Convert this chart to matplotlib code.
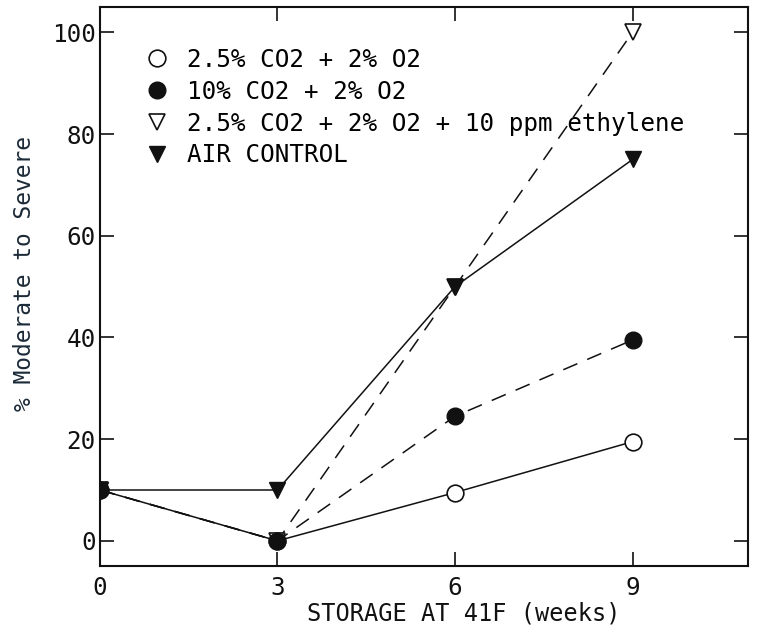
import matplotlib
matplotlib.use("Agg")
import matplotlib.pyplot as plt

weeks = [0, 3, 6, 9]
co2_25 = [10, 0, 9.5, 19.5]
co2_10 = [10, 0, 24.5, 39.5]
ethylene = [10, 0, 50, 100]
air_control = [10, 10, 50, 75]

labels = ["2.5% CO2 + 2% O2",
          "10% CO2 + 2% O2",
          "2.5% CO2 + 2% O2 + 10 ppm ethylene",
          "AIR CONTROL"]

# the original was typeset in an evenly spaced plotter font
plt.rcParams['font.family'] = ['DejaVu Sans Mono', 'DejaVu Sans']

fig = plt.figure(figsize=(7.57, 6.32), dpi=100)
ax = fig.add_axes([0.132, 0.104, 0.856, 0.885])

ink = "#111111"
dash = (0, (10, 7))
ax.plot(weeks, co2_25, color=ink, lw=1.1, ls="-", marker="o", ms=12,
        mfc="white", mec=ink, mew=1.2, label=labels[0], zorder=3)
ax.plot(weeks, ethylene, color=ink, lw=1.1, ls=dash, marker="v", ms=12,
        mfc="white", mec=ink, mew=1.2, label=labels[2], zorder=3)
ax.plot(weeks, co2_10, color=ink, lw=1.1, ls=dash, marker="o", ms=12,
        mfc=ink, mec=ink, label=labels[1], zorder=4)
ax.plot(weeks, air_control, color=ink, lw=1.1, ls="-", marker="v", ms=12,
        mfc=ink, mec=ink, label=labels[3], zorder=4)

ax.set_xlim(0, 10.95)
ax.set_ylim(-5, 105)
ax.set_xticks(weeks)
ax.set_yticks([0, 20, 40, 60, 80, 100])
ax.tick_params(direction="in", length=10, width=1.2, top=True, right=True,
               labelsize=17.5, colors=ink)
ax.tick_params(axis="y", pad=3)
ax.tick_params(axis="x", pad=7)
for s in ax.spines.values():
    s.set_linewidth(1.5)
    s.set_color(ink)

ax.set_xlabel("STORAGE AT 41F (weeks)", fontsize=17, color=ink)
ax.xaxis.set_label_coords(0.562, -0.063)
ax.set_ylabel("% Moderate to Severe", fontsize=16.5, color="#1c2a38")
ax.yaxis.set_label_coords(-0.098, 0.523)

handles, names = ax.get_legend_handles_labels()
order = [0, 2, 1, 3]
leg = ax.legend([handles[i] for i in order], [names[i] for i in order],
                loc="upper left", frameon=False, fontsize=17.5, handlelength=0.8,
                handletextpad=0.85, labelspacing=0.32, borderaxespad=0.0,
                bbox_to_anchor=(0.058, 0.944))
for h in leg.legend_handles:
    h.set_linestyle("none")

fig.savefig("out.png", dpi=100)
